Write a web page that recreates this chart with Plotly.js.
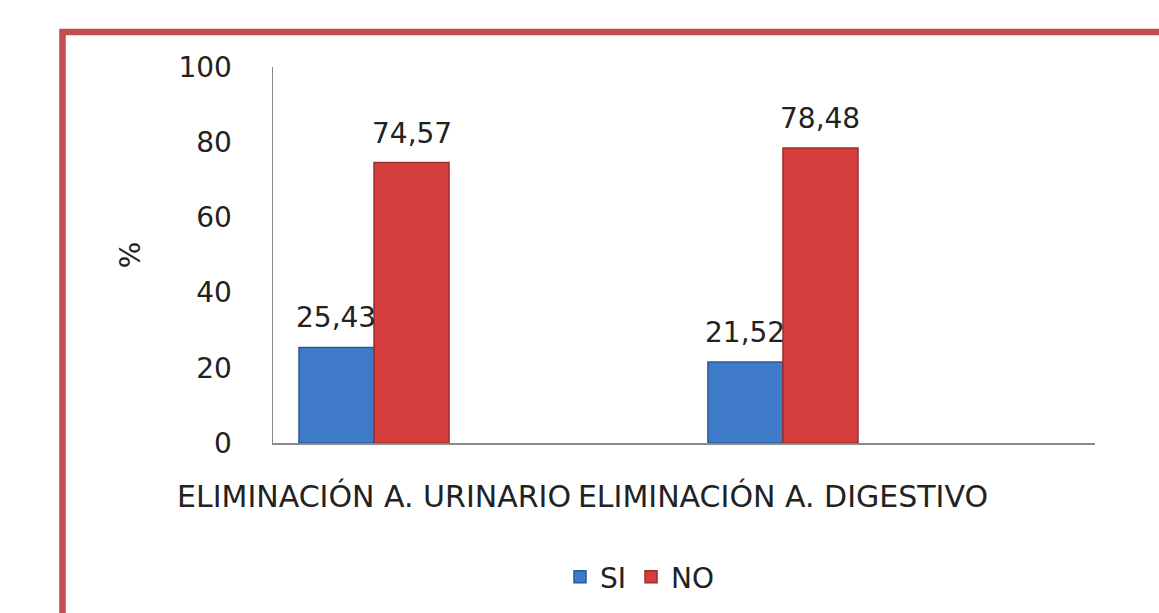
<!DOCTYPE html>
<html>
<head>
<meta charset="utf-8">
<script src="https://cdn.plot.ly/plotly-3.0.1.min.js"></script>
<style>html,body{margin:0;padding:0;background:#fff;}#chart{width:1159px;height:613px;}</style>
</head>
<body>
<div id="chart"></div>
<script>
const categories = ["ELIMINACIÓN A. URINARIO", "ELIMINACIÓN A. DIGESTIVO"];
const seriesNames = ["SI", "NO"];
const siValues = [25.43, 21.52];
const noValues = [74.57, 78.48];
const yTicks = [0, 20, 40, 60, 80, 100];

const fmt = v => v.toFixed(2).replace('.', ',');
const xIdx = categories.map((c, i) => i);
const FONT = 'DejaVu Sans, sans-serif';
const TXT = '#222222';
const barGap = 0.633;
const barW = (1 - barGap) / 2;

const traces = [
  {type: 'bar', name: seriesNames[0], x: xIdx, y: siValues,
   marker: {color: '#3F7BC9', line: {color: '#2C5A96', width: 1.5}}, hoverinfo: 'skip'},
  {type: 'bar', name: seriesNames[1], x: xIdx, y: noValues,
   marker: {color: '#D43F3D', line: {color: '#9E2D2B', width: 1.5}}, hoverinfo: 'skip'}
];

const annotations = [];
[siValues, noValues].forEach((vals, s) => {
  vals.forEach((v, i) => {
    annotations.push({
      x: i + (s === 0 ? -barW / 2 : barW / 2), y: v, xref: 'x', yref: 'y',
      text: fmt(v), showarrow: false, yanchor: 'bottom', yshift: 11,
      font: {family: FONT, size: 28, color: TXT}
    });
  });
});

// plot area in px: left 273, right 1095, top 67, bottom 444
const L = 273, R = 1095, T = 67, B = 444;
const px = x => (x - L) / (R - L);
const py = y => (B - y) / (B - T);

const layout = {
  width: 1159, height: 613,
  margin: {l: L, r: 1159 - R, t: T, b: 613 - B},
  paper_bgcolor: '#ffffff', plot_bgcolor: '#ffffff',
  barmode: 'group', bargap: barGap, bargroupgap: 0,
  showlegend: true,
  legend: {orientation: 'h', x: px(640), y: py(577), xanchor: 'center', yanchor: 'middle',
           font: {family: FONT, size: 28, color: TXT}, itemclick: false},
  xaxis: {
    range: [-0.247, 1.763], tickmode: 'array', tickvals: xIdx, ticktext: categories,
    tickangle: 0, showgrid: false, zeroline: false,
    showline: true, linecolor: '#8A8A8A', linewidth: 1.5,
    ticks: 'outside', ticklen: 26, tickcolor: 'rgba(0,0,0,0)',
    tickfont: {family: FONT, size: 30, color: TXT}, fixedrange: true
  },
  yaxis: {
    range: [0, 100], tickmode: 'array', tickvals: yTicks, ticktext: yTicks.map(String),
    showgrid: false, zeroline: false,
    showline: true, linecolor: '#8A8A8A', linewidth: 1.5,
    ticks: 'outside', ticklen: 34, tickcolor: 'rgba(0,0,0,0)',
    tickfont: {family: FONT, size: 28, color: TXT},
    title: {text: '%', standoff: 29, font: {family: FONT, size: 28, color: TXT}},
    automargin: false, fixedrange: true
  },
  annotations: annotations,
  shapes: [{
    type: 'rect', xref: 'paper', yref: 'paper',
    x0: px(62.5), y0: py(700), x1: px(1250), y1: py(32),
    line: {color: '#C0504D', width: 6.5}, fillcolor: 'rgba(0,0,0,0)', layer: 'above'
  }]
};

Plotly.newPlot('chart', traces, layout, {displayModeBar: false, staticPlot: true});
</script>
</body>
</html>
